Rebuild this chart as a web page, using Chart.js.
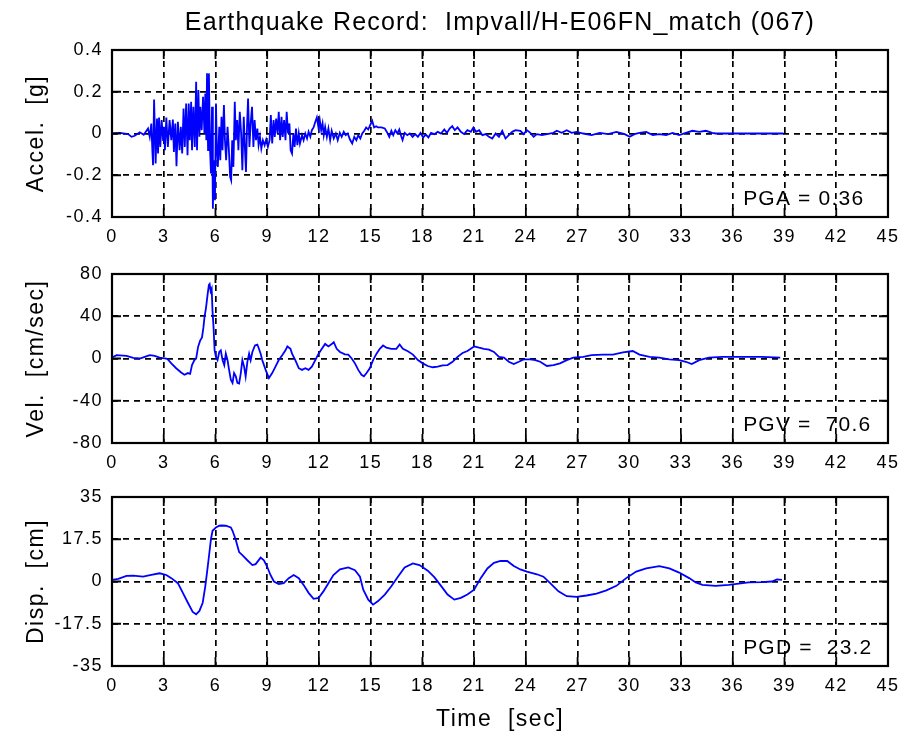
<!DOCTYPE html>
<html>
<head>
<meta charset="utf-8">
<script src="https://cdn.jsdelivr.net/npm/chart.js@4.4.1/dist/chart.umd.min.js"></script>
<style>
  html, body { margin: 0; padding: 0; background: #ffffff; }
  #wrap { position: relative; width: 907px; height: 737px; background: #ffffff; }
  #wrap canvas { position: absolute; left: 0; top: 0; }
</style>
</head>
<body>
<div id="wrap">
  <canvas id="cAcc" width="907" height="737"></canvas>
  <canvas id="cVel" width="907" height="737"></canvas>
  <canvas id="cDisp" width="907" height="737"></canvas>
</div>
<script>
// ---- text ----
const recordTitle = 'Earthquake Record:  Impvall/H-E06FN_match (067)';
const accelTitle = 'Accel.  [g]';
const velTitle = 'Vel.  [cm/sec]';
const dispTitle = 'Disp.  [cm]';
const timeTitle = 'Time  [sec]';

// ---- tick values ----
const timeTicks = [0, 3, 6, 9, 12, 15, 18, 21, 24, 27, 30, 33, 36, 39, 42, 45];
const accelTicks = [-0.4, -0.2, 0, 0.2, 0.4];
const velTicks = [-80, -40, 0, 40, 80];
const dispTicks = [-35, -17.5, 0, 17.5, 35];

// ---- ground acceleration [g] ----
const accelT = [0.00, 0.46, 0.94, 1.13, 1.32, 1.61, 1.84, 2.00, 2.09, 2.19, 2.28, 2.34, 2.38, 2.44, 2.50, 2.53,
  2.61, 2.67, 2.73, 2.80, 2.88, 2.96, 3.01, 3.07, 3.15, 3.24, 3.34, 3.44, 3.53, 3.59, 3.67, 3.74,
  3.82, 3.92, 3.99, 4.07, 4.15, 4.22, 4.30, 4.38, 4.45, 4.51, 4.59, 4.64, 4.72, 4.80, 4.88, 4.93,
  5.01, 5.07, 5.12, 5.20, 5.28, 5.36, 5.41, 5.47, 5.51, 5.57, 5.62, 5.68, 5.74, 5.80, 5.85, 5.91,
  5.97, 6.03, 6.08, 6.14, 6.22, 6.28, 6.35, 6.41, 6.49, 6.55, 6.62, 6.70, 6.78, 6.85, 6.91, 6.97,
  7.04, 7.12, 7.18, 7.26, 7.33, 7.41, 7.49, 7.56, 7.64, 7.72, 7.77, 7.83, 7.89, 7.97, 8.04, 8.12,
  8.20, 8.27, 8.35, 8.43, 8.50, 8.58, 8.66, 8.75, 8.85, 8.94, 9.04, 9.14, 9.21, 9.29, 9.37, 9.44,
  9.52, 9.60, 9.67, 9.75, 9.83, 9.90, 9.98, 10.06, 10.13, 10.21, 10.29, 10.36, 10.44, 10.52, 10.59, 10.67,
  10.75, 10.83, 10.90, 11.02, 11.11, 11.21, 11.31, 11.40, 11.50, 11.59, 11.69, 11.79, 11.88, 11.98, 12.05, 12.13,
  12.21, 12.28, 12.36, 12.46, 12.55, 12.65, 12.74, 12.86, 12.98, 13.09, 13.21, 13.32, 13.44, 13.55, 13.67, 13.80,
  13.93, 14.05, 14.17, 14.28, 14.40, 14.51, 14.63, 14.74, 14.86, 14.97, 15.09, 15.20, 15.32, 15.43, 15.62, 15.82,
  15.97, 16.08, 16.20, 16.31, 16.43, 16.55, 16.66, 16.78, 16.85, 16.97, 17.12, 17.27, 17.43, 17.58, 17.74, 17.89,
  18.04, 18.20, 18.35, 18.50, 18.69, 18.89, 19.08, 19.27, 19.42, 19.58, 19.73, 19.88, 20.04, 20.23, 20.42, 20.61,
  20.81, 20.96, 21.11, 21.29, 21.48, 21.67, 21.86, 22.05, 22.25, 22.44, 22.63, 22.82, 23.01, 23.21, 23.40, 23.68,
  23.87, 24.06, 24.26, 24.45, 24.64, 24.93, 25.22, 25.60, 25.79, 26.08, 26.37, 26.65, 26.94, 27.33, 27.81, 28.29,
  28.77, 29.25, 29.73, 30.02, 30.30, 30.59, 30.98, 31.36, 31.74, 32.13, 32.51, 32.89, 33.28, 33.66, 34.05, 34.43,
  34.81, 35.00, 38.94];
const accelG = [0, 0.003, -0.003, -0.016, -0.011, 0.006, -0.006, 0.013, 0.024, -0.016, 0.048, -0.080, -0.152, 0.163, -0.032, -0.144,
  0.072, -0.096, 0.077, -0.064, 0.064, -0.032, 0.032, -0.080, 0.077, -0.064, 0.064, -0.032, 0.067, -0.088, 0.048, -0.157,
  0.056, -0.080, 0.032, -0.096, 0.120, -0.064, 0.144, -0.104, 0.144, -0.032, 0.152, -0.080, 0.128, -0.064, 0.248, -0.080,
  0.208, -0.016, 0.128, 0.016, 0.176, 0, 0.192, -0.032, 0.288, -0.080, 0.288, -0.064, -0.192, 0.128, -0.360, -0.128,
  -0.320, 0.144, -0.064, -0.160, 0.032, -0.128, 0.080, -0.080, 0.136, -0.032, -0.128, 0.032, -0.080, -0.208, -0.224, -0.032,
  -0.160, 0.152, -0.032, 0.064, -0.080, 0.104, 0, -0.176, 0.080, -0.096, -0.184, 0.032, 0.168, -0.064, 0.048, 0.128,
  -0.064, 0.064, -0.032, 0.024, -0.056, -0.016, -0.072, -0.032, -0.056, -0.029, -0.064, -0.032, 0.088, -0.048, 0.064, -0.016,
  0.072, 0, 0.104, -0.032, 0.080, -0.016, 0.064, -0.032, 0.104, 0, 0.048, -0.080, -0.096, 0, -0.064, 0.024,
  -0.056, 0, -0.048, -0.008, -0.032, 0, -0.024, 0.008, -0.016, 0.016, 0.029, 0.056, 0.077, 0.024, 0.064, 0.016,
  0.048, -0.008, 0.032, -0.016, 0.024, -0.032, 0.013, -0.024, 0, -0.032, 0.003, -0.016, 0.008, -0.008, 0, -0.029,
  -0.048, -0.016, -0.032, -0.008, -0.024, 0, 0.013, 0.029, 0.019, 0.040, 0.061, 0.029, 0.035, 0.029, 0.029, 0.024,
  0.003, -0.016, 0.013, -0.008, 0.016, 0, 0.019, -0.016, -0.032, 0.003, -0.008, 0, -0.016, -0.003, -0.016, 0.003,
  -0.019, -0.005, -0.019, 0.003, -0.003, 0.008, 0, 0.019, 0.003, 0.024, 0.035, 0.016, 0.029, 0.008, -0.003, 0.016,
  0.008, 0.029, 0.008, 0.016, -0.008, -0.003, -0.016, -0.024, 0, -0.016, 0.013, -0.024, -0.008, 0.008, 0.016, 0.013,
  -0.003, 0.016, 0.003, -0.016, -0.003, -0.008, -0.003, 0.003, 0.013, 0.003, 0.016, 0.003, 0.008, 0, -0.008, 0.003,
  -0.003, 0.008, -0.003, -0.016, -0.003, 0.003, 0.008, -0.008, -0.003, -0.008, 0.003, -0.008, 0.003, 0.013, 0.008, 0.013,
  0.003, 0, 0];

// ---- ground velocity [cm/sec] ----
const velT = [0.00, 0.27, 0.84, 1.23, 1.61, 1.90, 2.19, 2.48, 2.76, 3.15, 3.24, 3.44, 3.72, 4.01, 4.20, 4.40,
  4.53, 4.64, 4.78, 4.88, 4.99, 5.11, 5.22, 5.30, 5.37, 5.45, 5.55, 5.62, 5.66, 5.72, 5.78, 5.83,
  5.89, 5.95, 6.03, 6.12, 6.22, 6.31, 6.41, 6.51, 6.60, 6.70, 6.79, 6.89, 6.99, 7.08, 7.18, 7.27,
  7.37, 7.47, 7.56, 7.66, 7.75, 7.85, 7.95, 8.04, 8.14, 8.29, 8.43, 8.52, 8.62, 8.71, 8.91, 9.10,
  9.29, 9.48, 9.67, 9.87, 10.06, 10.17, 10.35, 10.44, 10.63, 10.83, 11.02, 11.21, 11.40, 11.59, 11.79, 11.98,
  12.17, 12.36, 12.55, 12.74, 12.86, 13.03, 13.22, 13.51, 13.70, 13.90, 14.09, 14.28, 14.47, 14.61, 14.76, 14.95,
  15.14, 15.34, 15.53, 15.72, 15.91, 16.20, 16.49, 16.68, 16.87, 17.16, 17.45, 17.74, 18.02, 18.31, 18.60, 18.89,
  19.17, 19.46, 19.75, 20.04, 20.33, 20.61, 21.00, 21.29, 21.57, 21.86, 22.15, 22.44, 22.73, 23.01, 23.30, 23.59,
  23.87, 24.26, 24.55, 24.83, 25.22, 25.60, 25.98, 26.37, 26.75, 27.33, 27.81, 28.48, 29.05, 29.63, 30.20, 30.59,
  31.17, 31.74, 32.32, 32.89, 33.28, 33.62, 34.05, 34.62, 35.39, 36.54, 37.69, 38.75];
const velV = [0.9, 3.1, 2.5, 0.6, 0, 1.5, 3.1, 2.5, 0.9, 0, -0.9, -4.6, -9.2, -13.2, -15.4, -13.8,
  -14.5, -6.2, -1.5, 0, 10.8, 16.9, 20.0, 29.2, 40.0, 47.7, 61.5, 69.8, 70.6, 63.7, 66.2, 44.6,
  29.2, 7.7, 1.5, -1.5, 6.2, 7.7, -1.5, -6.2, 4.6, -1.5, -10.8, -20.0, -23.1, -13.8, -16.9, -23.1,
  -23.7, -13.8, -1.5, -7.7, -16.9, -3.1, 4.6, -1.5, 6.2, 12.3, 13.2, 9.2, 4.6, -1.5, -10.8, -18.5,
  -13.8, -7.7, -1.5, 3.1, 7.7, 11.4, 9.2, 4.6, -1.5, -9.2, -10.8, -9.2, -10.8, -7.7, -1.5, 4.6,
  9.2, 13.8, 11.4, 13.8, 15.4, 9.2, 6.2, 4.0, 3.7, 0, -4.6, -10.8, -15.4, -16.9, -13.8, -9.2,
  -1.5, 4.6, 9.2, 12.3, 10.2, 9.2, 9.2, 13.2, 9.2, 6.8, 3.7, -1.5, -4.6, -7.1, -8.3, -7.7,
  -6.5, -6.2, -3.1, 1.5, 5.2, 7.1, 11.4, 10.2, 9.2, 8.3, 6.2, 1.5, 0.9, -3.1, -5.2, -3.1,
  -0.9, -0.9, -1.5, -3.1, -7.1, -6.2, -4.6, -1.5, 0.9, 1.5, 3.1, 3.7, 3.7, 5.8, 7.1, 3.7,
  1.5, 0.9, -0.9, -1.5, -3.1, -5.2, -1.5, 0.9, 1.5, 1.5, 1.5, 0.9];

// ---- ground displacement [cm] ----
const dispT = [0.00, 0.36, 0.84, 1.23, 1.80, 2.28, 2.76, 3.15, 3.44, 3.82, 4.11, 4.40, 4.68, 4.88, 5.07, 5.26,
  5.41, 5.55, 5.64, 5.74, 5.83, 6.03, 6.22, 6.37, 6.60, 6.89, 6.99, 7.18, 7.37, 7.56, 7.85, 8.14,
  8.33, 8.62, 8.81, 9.00, 9.19, 9.39, 9.67, 9.96, 10.25, 10.54, 10.83, 11.11, 11.40, 11.69, 11.98, 12.26,
  12.55, 12.84, 13.22, 13.70, 14.09, 14.38, 14.57, 14.86, 15.14, 15.43, 15.82, 16.20, 16.58, 16.97, 17.45, 17.83,
  18.31, 18.69, 19.08, 19.46, 19.85, 20.23, 20.61, 21.00, 21.38, 21.77, 22.15, 22.53, 22.92, 23.30, 23.68, 24.06,
  24.64, 25.02, 25.41, 25.89, 26.37, 26.94, 27.52, 28.10, 28.67, 29.25, 29.82, 30.40, 30.98, 31.74, 32.32, 32.89,
  33.47, 33.85, 34.24, 35.00, 35.77, 36.35, 36.92, 37.69, 38.27, 38.56, 38.85];
const dispD = [0.7, 1.1, 2.3, 2.4, 2.0, 2.7, 3.4, 2.7, 1.4, -0.7, -4.7, -8.8, -12.6, -13.6, -12.2, -8.8,
  -2.0, 6.1, 11.5, 17.6, 21.0, 22.4, 23.1, 23.2, 23.1, 22.4, 21.0, 17.2, 12.2, 10.9, 8.8, 6.8,
  7.2, 9.9, 8.8, 6.1, 2.7, 0, -1.1, -0.7, 1.4, 2.7, 1.4, -1.4, -4.7, -7.2, -6.8, -4.1,
  -0.7, 2.7, 5.0, 5.8, 4.7, 2.0, -3.4, -7.5, -9.6, -8.1, -5.4, -2.0, 2.0, 5.8, 7.5, 6.8,
  4.5, 1.8, -1.8, -5.4, -7.5, -6.8, -5.4, -3.4, 1.4, 5.4, 7.7, 8.5, 8.5, 6.4, 5.0, 4.1,
  3.0, 2.0, -0.7, -4.1, -6.1, -6.4, -5.8, -5.0, -3.7, -1.8, 1.4, 4.1, 5.4, 6.4, 5.4, 3.7,
  1.4, -0.4, -1.4, -1.8, -1.4, -0.9, -0.4, -0.3, 0, 0.9, 0.7];

// ---- drawing ----
const FAMILY = "'Liberation Sans', Arial, Helvetica, sans-serif";
const INK = '#000000';

const peakOf = arr => Math.max(...arr.map(Math.abs));

// axis box with inward tick marks on all four sides, plus the peak label
const framePlugin = {
  id: 'frame',
  beforeDraw(chart, args, opts) {
    const ctx = chart.ctx;
    ctx.letterSpacing = '1.5px';
    const { bottom } = chart.chartArea;
    const xs = chart.scales.x;
    ctx.save();
    ctx.letterSpacing = '1.2px';
    ctx.font = '21px ' + FAMILY;
    ctx.fillStyle = INK;
    ctx.textAlign = 'left';
    ctx.textBaseline = 'alphabetic';
    ctx.fillText(opts.peakText, xs.getPixelForValue(36.6), bottom - 12);
    ctx.restore();
  },
  afterDatasetsDraw(chart) {
    const ctx = chart.ctx;
    const { left, right, top, bottom } = chart.chartArea;
    const xs = chart.scales.x, ys = chart.scales.y;
    const len = 9;
    ctx.save();
    ctx.strokeStyle = '#000';
    ctx.lineWidth = 1.8;
    ctx.setLineDash([]);
    ctx.beginPath();
    xs.ticks.forEach(t => {
      const px = xs.getPixelForValue(t.value);
      ctx.moveTo(px, bottom); ctx.lineTo(px, bottom - len);
      ctx.moveTo(px, top); ctx.lineTo(px, top + len);
    });
    ys.ticks.forEach(t => {
      const py = ys.getPixelForValue(t.value);
      ctx.moveTo(left, py); ctx.lineTo(left + len, py);
      ctx.moveTo(right, py); ctx.lineTo(right - len, py);
    });
    ctx.stroke();
    ctx.lineWidth = 2.2;
    ctx.strokeRect(left, top, right - left, bottom - top);
    ctx.restore();
  }
};

const headingPlugin = {
  id: 'heading',
  afterDraw(chart, args, opts) {
    if (!opts.text) return;
    const ctx = chart.ctx;
    const { left, right } = chart.chartArea;
    ctx.save();
    ctx.letterSpacing = '1.2px';
    ctx.font = '25px ' + FAMILY;
    ctx.fillStyle = INK;
    ctx.textAlign = 'center';
    ctx.textBaseline = 'alphabetic';
    ctx.fillText(opts.text, (left + right) / 2, 30);
    ctx.restore();
  }
};

function makeChart(id, cfg) {
  const points = cfg.t.map((x, i) => ({ x, y: cfg.v[i] }));
  return new Chart(document.getElementById(id), {
    type: 'line',
    data: {
      datasets: [{
        data: points,
        borderColor: '#0000ff',
        borderWidth: 1.8,
        pointRadius: 0,
        tension: 0,
        fill: false
      }]
    },
    options: {
      responsive: false,
      animation: false,
      events: [],
      layout: { padding: { top: cfg.padTop, right: 13, bottom: cfg.padBottom, left: 0 } },
      plugins: {
        legend: { display: false },
        tooltip: { enabled: false },
        title: { display: false },
        frame: { peakText: cfg.peakText },
        heading: { text: cfg.heading || '' }
      },
      scales: {
        x: {
          type: 'linear',
          min: 0,
          max: 45,
          afterBuildTicks: s => { s.ticks = timeTicks.map(v => ({ value: v })); },
          afterFit: s => { s.height = cfg.xAxisHeight; },
          ticks: {
            padding: 9, maxRotation: 0, autoSkip: false, color: INK,
            font: { family: FAMILY, size: 18 },
            callback: v => String(v)
          },
          grid: { color: '#000', lineWidth: 1.7, drawTicks: false },
          border: { display: false, dash: [6, 5] },
          title: {
            display: !!cfg.xTitle,
            text: cfg.xTitle || '',
            color: INK,
            font: { family: FAMILY, size: 23 },
            padding: { top: 0, bottom: 4 }
          }
        },
        y: {
          type: 'linear',
          min: cfg.yTicks[0],
          max: cfg.yTicks[cfg.yTicks.length - 1],
          afterBuildTicks: s => { s.ticks = cfg.yTicks.map(v => ({ value: v })); },
          afterFit: s => { s.width = 112; },
          ticks: {
            padding: 9, color: INK,
            font: { family: FAMILY, size: 18 },
            callback: v => String(v)
          },
          grid: { color: '#000', lineWidth: 1.7, drawTicks: false },
          border: { display: false, dash: [6, 5] },
          title: {
            display: true,
            text: cfg.yTitle,
            color: INK,
            font: { family: FAMILY, size: 23 },
            padding: { top: 23, bottom: 0 }
          }
        }
      }
    },
    plugins: [framePlugin, headingPlugin]
  });
}

makeChart('cAcc', {
  t: accelT, v: accelG, yTicks: accelTicks, yTitle: accelTitle,
  padTop: 50, padBottom: 490, xAxisHeight: 30,
  peakText: 'PGA = ' + peakOf(accelG).toFixed(2),
  heading: recordTitle
});
makeChart('cVel', {
  t: velT, v: velV, yTicks: velTicks, yTitle: velTitle,
  padTop: 274, padBottom: 264, xAxisHeight: 30,
  peakText: 'PGV =  ' + peakOf(velV).toFixed(1)
});
makeChart('cDisp', {
  t: dispT, v: dispD, yTicks: dispTicks, yTitle: dispTitle,
  padTop: 497, padBottom: 0, xAxisHeight: 71, xTitle: timeTitle,
  peakText: 'PGD =  ' + peakOf(dispD).toFixed(1)
});
</script>
</body>
</html>
